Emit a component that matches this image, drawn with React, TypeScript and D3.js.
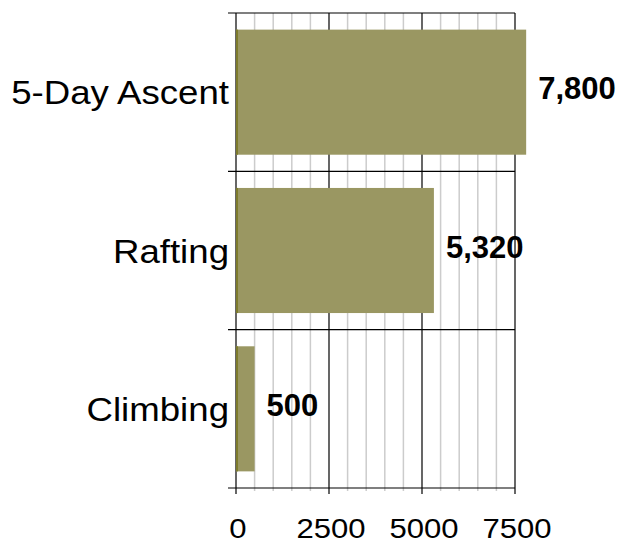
import * as d3 from 'd3';
import { useEffect, useRef } from 'react';

const categories = ['5-Day Ascent', 'Rafting', 'Climbing'];
const values = [7800, 5320, 500];
const majorTicks = [0, 2500, 5000, 7500];
const minorTicks = d3.range(0, 7501, 500);

const width = 624;
const height = 544;
const margin = { top: 13, right: 109, bottom: 56, left: 236 };

export default function App() {
  const svgRef = useRef<SVGSVGElement | null>(null);

  useEffect(() => {
    const svg = d3.select(svgRef.current);
    svg.selectAll('*').remove();

    const x = d3
      .scaleLinear()
      .domain([0, 7500])
      .range([margin.left, width - margin.right]);

    const y = d3
      .scaleBand<string>()
      .domain(categories)
      .range([margin.top, height - margin.bottom])
      .paddingInner(0.21)
      .paddingOuter(0.105);

    const step = y.step();
    const top = margin.top;
    const bottom = height - margin.bottom;
    const font = '"Liberation Sans", Arial, sans-serif';

    // minor grid
    svg
      .append('g')
      .selectAll('line')
      .data(minorTicks.filter((t) => !majorTicks.includes(t)))
      .enter()
      .append('line')
      .attr('x1', (d) => x(d))
      .attr('x2', (d) => x(d))
      .attr('y1', top)
      .attr('y2', bottom + 3)
      .style('stroke', '#cccccc')
      .style('stroke-width', 1.5);

    // major grid
    svg
      .append('g')
      .selectAll('line')
      .data(majorTicks)
      .enter()
      .append('line')
      .attr('x1', (d) => x(d))
      .attr('x2', (d) => x(d))
      .attr('y1', top)
      .attr('y2', bottom + 6)
      .style('stroke', '#000')
      .style('stroke-width', 1.2);

    // category separators
    const seps = d3.range(categories.length + 1).map((i) => top + i * step);
    svg
      .append('g')
      .selectAll('line')
      .data(seps)
      .enter()
      .append('line')
      .attr('x1', margin.left - 8)
      .attr('x2', x(7500))
      .attr('y1', (d) => d)
      .attr('y2', (d) => d)
      .style('stroke', '#000')
      .style('stroke-width', 1.2);

    // bars
    const bars = svg
      .append('g')
      .selectAll('g')
      .data(categories)
      .enter()
      .append('g');

    bars
      .append('rect')
      .attr('x', x(0))
      .attr('y', (d) => y(d) ?? 0)
      .attr('width', (_, i) => x(values[i]) - x(0))
      .attr('height', y.bandwidth())
      .style('fill', '#9a9762');

    bars
      .append('rect')
      .attr('x', x(0))
      .attr('y', (d) => y(d) ?? 0)
      .attr('width', 2)
      .attr('height', y.bandwidth())
      .style('fill', '#7d7b2c');

    // value labels
    bars
      .append('text')
      .attr('x', (_, i) => x(values[i]) + 12)
      .attr('y', (d) => (y(d) ?? 0) + y.bandwidth() / 2 + 7)
      .style('font-family', font)
      .style('font-size', '31px')
      .style('font-weight', 'bold')
      .style('fill', '#000')
      .text((_, i) => d3.format(',')(values[i]));

    // category labels (slightly stretched horizontally)
    svg
      .append('g')
      .selectAll('text')
      .data(categories)
      .enter()
      .append('text')
      .attr(
        'transform',
        (d) => `translate(${margin.left - 7},${(y(d) ?? 0) + y.bandwidth() / 2 + 12}) scale(1.11,1)`
      )
      .attr('text-anchor', 'end')
      .style('font-family', font)
      .style('font-size', '33px')
      .style('fill', '#000')
      .text((d) => d);

    // x tick labels
    svg
      .append('g')
      .selectAll('text')
      .data(majorTicks)
      .enter()
      .append('text')
      .attr('transform', (d) => `translate(${x(d) + 2},${bottom + 50}) scale(1.11,1)`)
      .attr('text-anchor', 'middle')
      .style('font-family', font)
      .style('font-size', '28px')
      .style('fill', '#000')
      .text((d) => String(d));
  }, []);

  return (
    <svg
      ref={svgRef}
      width={width}
      height={height}
      style={{ position: 'absolute', left: 0, top: 0, background: '#fff' }}
    />
  );
}
